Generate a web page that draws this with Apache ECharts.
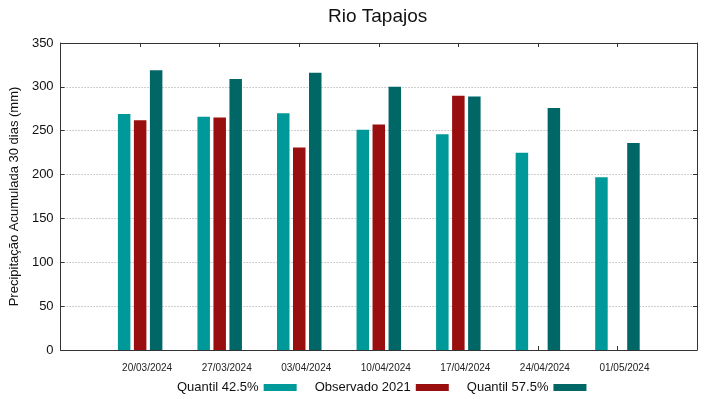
<!DOCTYPE html>
<html>
<head>
<meta charset="utf-8">
<script src="https://cdn.jsdelivr.net/npm/echarts@6/dist/echarts.min.js"></script>
<style>
  html, body { margin: 0; padding: 0; background: #fff; }
  #main { width: 719px; height: 399px; }
</style>
</head>
<body>
<div id="main"></div>
<script>
// datas das semanas
const dates = ['20/03/2024', '27/03/2024', '03/04/2024', '10/04/2024', '17/04/2024', '24/04/2024', '01/05/2024'];
// precipitação acumulada 30 dias (mm)
const quantil425 = [269, 266, 270, 251, 246, 225, 197];
const observado2021 = [262, 265, 231, 257, 290, null, null];
const quantil575 = [319, 309, 316, 300, 289, 276, 236];
const yTicks = [0, 50, 100, 150, 200, 250, 300, 350];

// categorias com folga nas pontas
const cats = [''].concat(dates, ['']);
const pad = arr => [null].concat(arr, [null]);

const chart = echarts.init(document.getElementById('main'), null, {renderer: 'canvas'});
const font = 'Liberation Sans, Arial, sans-serif';
const axisColor = '#333';
const tick = {show: true, inside: true, length: 4, lineStyle: {color: axisColor}};

chart.setOption({
  animation: false,
  textStyle: {fontFamily: font},
  title: {
    text: 'Rio Tapajos',
    left: 323,
    top: 2,
    textStyle: {fontSize: 19, fontWeight: 'normal', color: '#111', fontFamily: font}
  },
  legend: {
    bottom: 0,
    left: 172,
    align: 'right',
    icon: 'rect',
    itemWidth: 33,
    itemHeight: 7,
    itemGap: 18,
    textStyle: {fontSize: 13, color: '#111', fontFamily: font},
    data: ['Quantil 42.5%', 'Observado 2021', 'Quantil 57.5%']
  },
  grid: {left: 58, right: 22, top: 43, bottom: 49},
  xAxis: [
    {
      type: 'category',
      data: cats,
      boundaryGap: false,
      axisLine: {onZero: false, lineStyle: {color: axisColor, width: 1}},
      axisTick: tick,
      axisLabel: {
        interval: 0, fontSize: 10, color: '#222', margin: 13,
        padding: [0, 0, 0, 14]
      },
      splitLine: {show: false}
    },
    {
      type: 'category',
      data: cats,
      position: 'top',
      boundaryGap: false,
      axisLine: {onZero: false, lineStyle: {color: axisColor, width: 1}},
      axisTick: tick,
      axisLabel: {show: false},
      splitLine: {show: false}
    }
  ],
  yAxis: [
    {
      type: 'value',
      min: yTicks[0],
      max: yTicks[yTicks.length - 1],
      interval: 50,
      name: 'Precipitação Acumulada 30 dias (mm)',
      nameLocation: 'middle',
      nameGap: 32,
      nameTextStyle: {fontSize: 13, color: '#111'},
      axisLine: {show: true, onZero: false, lineStyle: {color: axisColor, width: 1}},
      axisTick: tick,
      axisLabel: {fontSize: 13, color: '#111', margin: 7},
      splitLine: {lineStyle: {color: '#a0a0a0', type: [1, 2], width: 1}}
    },
    {
      type: 'value',
      min: yTicks[0],
      max: yTicks[yTicks.length - 1],
      interval: 50,
      position: 'right',
      axisLine: {show: true, onZero: false, lineStyle: {color: axisColor, width: 1}},
      axisTick: tick,
      axisLabel: {show: false},
      splitLine: {show: false}
    }
  ],
  series: [
    {
      name: 'Quantil 42.5%',
      type: 'bar',
      data: pad(quantil425),
      barWidth: 12.5,
      barGap: '28%',
      itemStyle: {color: '#009999'}
    },
    {
      name: 'Observado 2021',
      type: 'bar',
      data: pad(observado2021),
      barWidth: 12.5,
      barGap: '28%',
      itemStyle: {color: '#990f0f'}
    },
    {
      name: 'Quantil 57.5%',
      type: 'bar',
      data: pad(quantil575),
      barWidth: 12.5,
      barGap: '28%',
      itemStyle: {color: '#006666'}
    }
  ]
});
</script>
</body>
</html>
